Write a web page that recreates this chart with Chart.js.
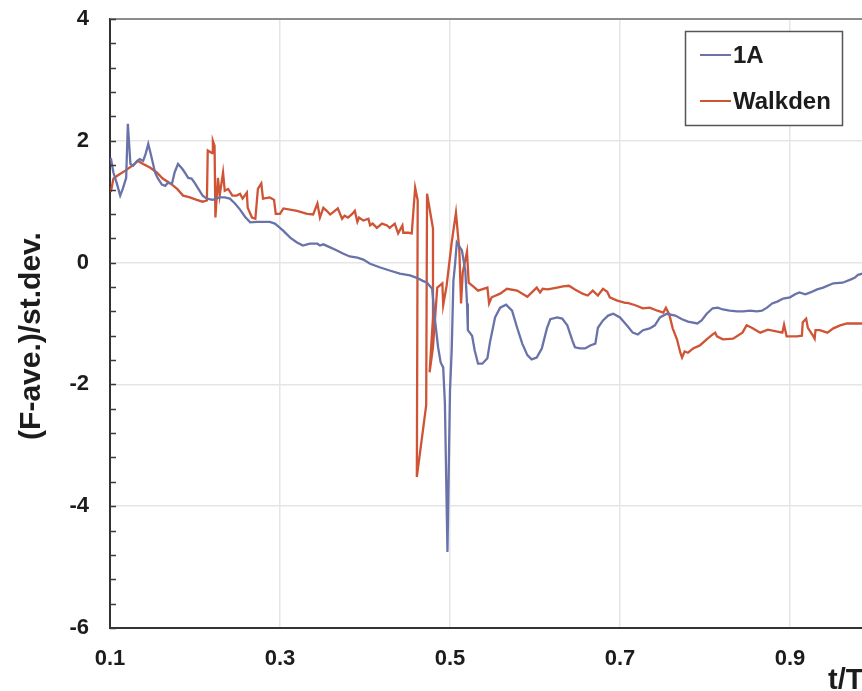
<!DOCTYPE html>
<html>
<head>
<meta charset="utf-8">
<script src="https://cdn.jsdelivr.net/npm/chart.js@4/dist/chart.umd.min.js"></script>
<style>
  html, body { margin: 0; padding: 0; background: #fff; overflow: hidden; }
  #wrap { width: 862px; height: 691px; overflow: hidden; position: relative; }
  canvas { display: block; }
</style>
</head>
<body>
<div id="wrap"><canvas id="c" width="880" height="691"></canvas></div>
<script>
// Normalised force (F - ave.) / st.dev. against relative time t/T
const seriesNames = ['1A', 'Walkden'];

const t1A = [0.101,0.104,0.108,0.112,0.115,0.119,0.121,0.124,0.127,0.132,0.135,0.139,0.142,0.145,0.149,0.153,0.156,0.161,0.165,0.168,
  0.173,0.176,0.180,0.185,0.188,0.192,0.196,0.200,0.204,0.209,0.214,0.221,0.229,0.235,0.241,0.247,0.253,0.259,0.265,0.273,
  0.280,0.288,0.294,0.300,0.304,0.312,0.320,0.327,0.335,0.344,0.347,0.351,0.359,0.367,0.374,0.382,0.391,0.398,0.406,0.418,
  0.429,0.441,0.453,0.461,0.468,0.473,0.479,0.482,0.486,0.489,0.492,0.494,0.497,0.500,0.502,0.504,0.506,0.508,0.514,0.518,
  0.520,0.521,0.526,0.529,0.533,0.538,0.544,0.547,0.553,0.559,0.566,0.573,0.579,0.585,0.591,0.596,0.602,0.608,0.614,0.618,
  0.626,0.632,0.638,0.644,0.647,0.653,0.659,0.665,0.671,0.674,0.680,0.686,0.692,0.700,0.708,0.715,0.721,0.727,0.735,0.741,
  0.747,0.755,0.765,0.773,0.780,0.791,0.796,0.802,0.809,0.815,0.821,0.829,0.838,0.845,0.853,0.861,0.867,0.873,0.879,0.885,
  0.892,0.900,0.906,0.911,0.918,0.924,0.932,0.939,0.951,0.962,0.971,0.976,0.980,0.985,1.000];
const f1A = [1.72,1.48,1.30,1.10,1.21,1.39,2.28,1.62,1.59,1.67,1.70,1.67,1.79,1.95,1.72,1.48,1.39,1.28,1.26,1.31,
  1.30,1.48,1.62,1.54,1.48,1.39,1.38,1.30,1.21,1.10,1.05,1.03,1.07,1.07,1.05,0.97,0.87,0.75,0.66,0.67,
  0.67,0.67,0.64,0.57,0.52,0.41,0.33,0.28,0.31,0.31,0.28,0.30,0.25,0.20,0.15,0.10,0.08,0.05,-0.02,-0.08,
  -0.13,-0.18,-0.21,-0.25,-0.30,-0.33,-0.43,-0.90,-1.39,-1.64,-1.72,-2.31,-4.75,-2.10,-1.44,-0.30,-0.02,0.33,0.20,-0.13,
  -0.67,-1.11,-1.20,-1.44,-1.66,-1.66,-1.57,-1.31,-0.90,-0.74,-0.69,-0.79,-1.07,-1.33,-1.52,-1.59,-1.56,-1.41,-1.08,-0.93,
  -0.90,-0.92,-1.03,-1.28,-1.39,-1.41,-1.41,-1.36,-1.33,-1.07,-0.95,-0.87,-0.84,-0.90,-1.03,-1.15,-1.18,-1.11,-1.08,-1.03,
  -0.90,-0.84,-0.87,-0.93,-0.97,-1.00,-0.95,-0.84,-0.75,-0.74,-0.77,-0.79,-0.80,-0.80,-0.79,-0.80,-0.79,-0.74,-0.67,-0.64,
  -0.59,-0.57,-0.52,-0.49,-0.52,-0.49,-0.44,-0.41,-0.34,-0.33,-0.28,-0.25,-0.20,-0.18,-0.13];

const tWalkden = [0.101,0.104,0.109,0.118,0.126,0.133,0.139,0.147,0.155,0.162,0.171,0.179,0.186,0.194,0.202,0.209,0.214,0.215,0.220,0.221,
  0.223,0.224,0.227,0.229,0.233,0.235,0.239,0.244,0.249,0.253,0.256,0.261,0.262,0.267,0.271,0.274,0.278,0.280,0.288,0.293,
  0.295,0.300,0.304,0.320,0.332,0.339,0.344,0.347,0.351,0.355,0.359,0.362,0.368,0.373,0.376,0.380,0.385,0.388,0.391,0.393,
  0.398,0.404,0.406,0.409,0.414,0.420,0.426,0.429,0.435,0.439,0.444,0.445,0.451,0.455,0.459,0.462,0.461,0.472,0.473,0.480,
  0.480,0.476,0.480,0.485,0.491,0.492,0.496,0.502,0.507,0.511,0.513,0.515,0.520,0.522,0.529,0.533,0.544,0.546,0.549,0.559,
  0.567,0.579,0.591,0.602,0.606,0.609,0.615,0.626,0.633,0.640,0.647,0.656,0.662,0.668,0.674,0.680,0.685,0.688,0.696,0.706,
  0.709,0.718,0.727,0.735,0.744,0.751,0.754,0.758,0.762,0.767,0.771,0.773,0.776,0.780,0.786,0.794,0.802,0.809,0.812,0.814,
  0.821,0.833,0.844,0.849,0.855,0.865,0.874,0.891,0.893,0.896,0.908,0.914,0.915,0.919,0.921,0.927,0.929,0.930,0.935,0.944,
  0.951,0.959,0.967,0.974,0.985,1.000];
const fWalkden = [1.16,1.38,1.43,1.51,1.59,1.67,1.62,1.56,1.48,1.38,1.30,1.21,1.10,1.07,1.03,1.00,1.02,1.84,1.80,2.00,
  1.92,0.74,1.39,1.10,1.48,1.18,1.21,1.10,1.10,1.13,1.05,1.15,0.90,0.74,0.72,1.21,1.30,1.05,1.07,1.03,
  0.80,0.80,0.89,0.85,0.80,0.79,0.97,0.74,0.90,0.85,0.79,0.82,0.89,0.72,0.77,0.74,0.80,0.85,0.67,0.74,
  0.69,0.72,0.61,0.64,0.57,0.64,0.61,0.57,0.64,0.48,0.61,0.49,0.49,0.48,1.23,1.02,-3.52,-2.34,1.13,0.56,
  -0.90,-1.80,-1.39,-0.41,-0.34,-0.70,-0.38,0.33,0.82,0.20,-0.67,-0.16,0.18,-0.33,-0.41,-0.46,-0.41,-0.67,-0.57,-0.51,
  -0.43,-0.46,-0.56,-0.41,-0.49,-0.43,-0.44,-0.41,-0.39,-0.38,-0.44,-0.51,-0.54,-0.46,-0.54,-0.43,-0.48,-0.57,-0.62,-0.66,
  -0.66,-0.70,-0.75,-0.74,-0.79,-0.82,-0.74,-0.85,-1.08,-1.26,-1.48,-1.56,-1.46,-1.48,-1.41,-1.36,-1.26,-1.18,-1.15,-1.21,
  -1.26,-1.25,-1.15,-1.03,-1.07,-1.15,-1.10,-1.15,-1.02,-1.21,-1.21,-1.20,-0.98,-0.92,-1.07,-1.20,-1.25,-1.11,-1.11,-1.15,
  -1.08,-1.03,-1.00,-1.00,-1.00,-1.00];

const xTickLabels = [0.1, 0.3, 0.5, 0.7, 0.9];
const yTickLabels = [-6, -4, -2, 0, 2, 4];
const xTitle = 't/T';
const yTitle = '(F-ave.)/st.dev.';

const toPoints = (xs, ys) => xs.map((x, i) => ({ x: x, y: ys[i] }));

const FONT = '"Liberation Sans", Arial, Helvetica, sans-serif';
const INK = '#1c1c1c';
const GRID = '#e5e5e5';

// minor tick marks every 0.4 on the vertical axis
const yMinorTicks = [];
for (let i = 0; i <= 25; i++) yMinorTicks.push(Math.round((-6 + 0.4 * i) * 10) / 10);

const isLabelled = (v) => yTickLabels.some(l => Math.abs(l - v) < 1e-6);

// frame, inward tick marks, axis titles and the boxed legend
const decorations = {
  id: 'decorations',
  afterDraw(chart) {
    const { ctx, chartArea: a, scales: { x, y } } = chart;
    ctx.save();

    // top edge of the plot area
    ctx.strokeStyle = '#8c8c8c';
    ctx.lineWidth = 2;
    ctx.beginPath();
    ctx.moveTo(a.left, a.top);
    ctx.lineTo(a.right, a.top);
    ctx.stroke();

    // inward tick marks on the vertical axis
    ctx.strokeStyle = '#3a3a3a';
    ctx.lineWidth = 1.5;
    ctx.beginPath();
    yMinorTicks.forEach(v => {
      const py = Math.round(y.getPixelForValue(v)) + 0.5;
      ctx.moveTo(a.left, py);
      ctx.lineTo(a.left + 6, py);
    });
    ctx.stroke();

    // axis titles
    ctx.fillStyle = INK;
    ctx.font = 'bold 29px ' + FONT;
    ctx.textAlign = 'left';
    ctx.textBaseline = 'alphabetic';
    ctx.fillText(xTitle, x.getPixelForValue(1.0) - 47, 689);

    ctx.save();
    ctx.translate(40, 336);
    ctx.rotate(-Math.PI / 2);
    ctx.textAlign = 'center';
    ctx.font = 'bold 30px ' + FONT;
    ctx.fillText(yTitle, 0, 0);
    ctx.restore();

    // legend box
    const bx = 685.5, by = 31.5, bw = 157, bh = 94;
    ctx.fillStyle = '#ffffff';
    ctx.fillRect(bx, by, bw, bh);
    ctx.strokeStyle = '#555555';
    ctx.lineWidth = 1.5;
    ctx.strokeRect(bx, by, bw, bh);
    const rows = [55, 101];
    chart.data.datasets.forEach((ds, i) => {
      ctx.strokeStyle = ds.borderColor;
      ctx.lineWidth = 2;
      ctx.beginPath();
      ctx.moveTo(700, rows[i]);
      ctx.lineTo(731, rows[i]);
      ctx.stroke();
      ctx.fillStyle = INK;
      ctx.font = 'bold 24px ' + FONT;
      ctx.textAlign = 'left';
      ctx.textBaseline = 'middle';
      ctx.fillText(ds.label, 733, rows[i] + 1);
    });

    ctx.restore();
  }
};

new Chart(document.getElementById('c'), {
  type: 'line',
  data: {
    datasets: [
      {
        label: seriesNames[0],
        data: toPoints(t1A, f1A),
        borderColor: '#6a73a9',
        borderWidth: 2.3,
        pointRadius: 0,
        tension: 0,
        fill: false
      },
      {
        label: seriesNames[1],
        data: toPoints(tWalkden, fWalkden),
        borderColor: '#cf5435',
        borderWidth: 2.3,
        pointRadius: 0,
        tension: 0,
        fill: false
      }
    ]
  },
  options: {
    responsive: false,
    devicePixelRatio: 1,
    animation: false,
    layout: { padding: { top: 19, right: 5, left: 0, bottom: 0 } },
    plugins: {
      legend: { display: false },
      tooltip: { enabled: false }
    },
    scales: {
      x: {
        type: 'linear',
        min: 0.1,
        max: 1.0,
        afterBuildTicks: (s) => { s.ticks = xTickLabels.map(v => ({ value: v })); },
        afterFit: (s) => { s.height = 63; s.paddingLeft = 0; s.paddingRight = 0; },
        ticks: {
          callback: (v) => Number(v).toFixed(1),
          font: { family: FONT, size: 22, weight: 'bold' },
          color: INK,
          padding: 18,
          maxRotation: 0,
          autoSkip: false
        },
        grid: {
          color: (c) => (c.tick && c.tick.value > 0.15 ? GRID : 'rgba(0,0,0,0)'),
          lineWidth: 1.5,
          drawTicks: false
        },
        border: { display: true, color: '#333333', width: 2 }
      },
      y: {
        min: -6,
        max: 4,
        afterBuildTicks: (s) => { s.ticks = yMinorTicks.map(v => ({ value: v })); },
        afterFit: (s) => { s.width = 110; s.paddingTop = 0; s.paddingBottom = 0; },
        ticks: {
          callback: (v) => (isLabelled(v) ? String(Math.round(v)) : ''),
          font: { family: FONT, size: 22, weight: 'bold' },
          color: INK,
          padding: 21,
          autoSkip: false
        },
        grid: {
          color: (c) => {
            const v = c.tick ? c.tick.value : NaN;
            return (isLabelled(v) && v > -5.9 && v < 3.9) ? GRID : 'rgba(0,0,0,0)';
          },
          lineWidth: 1.5,
          drawTicks: false
        },
        border: { display: true, color: '#333333', width: 2 }
      }
    }
  },
  plugins: [decorations]
});
</script>
</body>
</html>
